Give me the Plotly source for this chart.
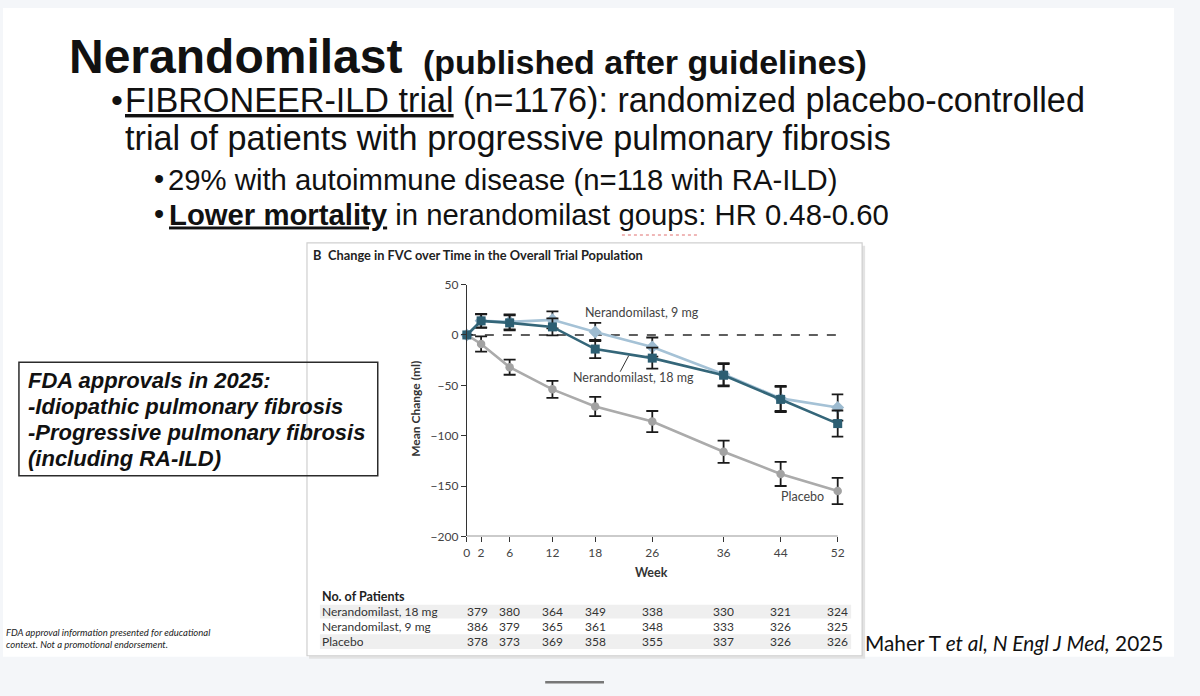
import math
import plotly.graph_objects as go

W, H = 1200, 696
nan = float("nan")

# ---- data ----
weeks = [0, 2, 6, 12, 18, 26, 36, 44, 52]
placebo_mean = [0, -9, -32, -54, -71, -86, -116, -138, -155]
placebo_err = [nan, 7.5, 7.5, 8.5, 9.5, 10.5, 11, 12, 13]
nera9_mean = [0, 14, 13, 15, 3, -12, -39, -63, -72]
nera9_err = [nan, 7, 7.5, 8.5, 9, 9.5, 11, 12.5, 13]
nera18_mean = [0, 14, 12, 8, -14, -23, -40, -64, -88]
nera18_err = [nan, 6.5, 7.5, 8.5, 9, 10.5, 11, 12.5, 13]

y_ticks = [-200, -150, -100, -50, 0, 50]

table_weeks = [2, 6, 12, 18, 26, 36, 44, 52]
table_rows = ["Nerandomilast, 18 mg", "Nerandomilast, 9 mg", "Placebo"]
n_18mg = [379, 380, 364, 349, 338, 330, 321, 324]
n_9mg = [386, 379, 365, 361, 348, 333, 326, 325]
n_placebo = [378, 373, 369, 358, 355, 337, 326, 326]


def px(x):
    return x / W


def py(y):
    return 1 - y / H


X0_PX, X52_PX = 465.4, 837.5
PX_PER_WK = (X52_PX - X0_PX) / 52
X_MAX = 52.8

fig = go.Figure()

ERR = dict(type="data", color="#1a1a1a", thickness=1.8, width=6)

fig.add_trace(go.Scatter(
    x=weeks, y=placebo_mean, mode="lines+markers", name="Placebo",
    line=dict(color="#ababab", width=2.6),
    marker=dict(symbol="circle", size=8.5, color="#a2a2a2"),
    error_y=dict(array=placebo_err, **ERR), cliponaxis=False))
fig.add_trace(go.Scatter(
    x=weeks, y=nera9_mean, mode="lines+markers", name="Nerandomilast, 9 mg",
    line=dict(color="#a5c2d6", width=2.6),
    marker=dict(symbol="diamond", size=10, color="#9dbbd0"),
    error_y=dict(array=nera9_err, **ERR), cliponaxis=False))
fig.add_trace(go.Scatter(
    x=weeks, y=nera18_mean, mode="lines+markers", name="Nerandomilast, 18 mg",
    line=dict(color="#346679", width=2.6),
    marker=dict(symbol="square", size=9, color="#2c5e72"),
    error_y=dict(array=nera18_err, **ERR), cliponaxis=False))

shapes = []
# slide area
shapes.append(dict(type="rect", xref="paper", yref="paper", x0=px(0), x1=px(1175),
                   y0=py(663), y1=py(0), fillcolor="white", line=dict(width=0), layer="below"))
# chart panel with light shadow
shapes.append(dict(type="rect", xref="paper", yref="paper", x0=px(307), x1=px(865),
                   y0=py(665), y1=py(243), fillcolor="#e3e3e3", line=dict(width=0), layer="below"))
shapes.append(dict(type="rect", xref="paper", yref="paper", x0=px(305), x1=px(862),
                   y0=py(662), y1=py(240), fillcolor="white", line=dict(color="#cfcfcf", width=1.2),
                   layer="below"))
# table shading
for top, bot in [(610, 624), (640, 655)]:
    shapes.append(dict(type="rect", xref="paper", yref="paper", x0=px(318), x1=px(851),
                       y0=py(bot), y1=py(top), fillcolor="#efefef", line=dict(width=0), layer="below"))
# zero reference line
shapes.append(dict(type="line", xref="x", yref="y", x0=0, x1=X_MAX, y0=0, y1=0,
                   line=dict(color="#2a2a2a", width=1.5, dash="dash"), layer="below"))
# x axis baseline (ends at week 52)
shapes.append(dict(type="line", xref="x", yref="y", x0=0, x1=52, y0=-200, y1=-200,
                   line=dict(color="#333", width=1.2)))
# leader line for 18 mg label
shapes.append(dict(type="line", xref="x", yref="y", x0=22.7, x1=21.5, y0=-20.5, y1=-36.5,
                   line=dict(color="#333", width=1)))
# left FDA box
shapes.append(dict(type="rect", xref="paper", yref="paper", x0=px(16), x1=px(376),
                   y0=py(478), y1=py(362), line=dict(color="#2b2b2b", width=1.5)))
# bottom small bar
shapes.append(dict(type="line", xref="paper", yref="paper", x0=px(544), x1=px(603),
                   y0=py(689), y1=py(689), line=dict(color="#777", width=2.5)))
# spell-check squiggle
shapes.append(dict(type="line", xref="paper", yref="paper", x0=px(621), x1=px(698),
                   y0=py(232), y1=py(232), line=dict(color="#e07070", width=1, dash="dot")))

ann = []
SLIDE = "Liberation Sans, Arial, sans-serif"
NEJM = "Lato, Open Sans, sans-serif"


def text(x, y, s, size, family=SLIDE, color="#111", xanchor="left", yanchor="middle",
         height=None, valign="middle"):
    a = dict(xref="paper", yref="paper", x=px(x), y=py(y), text=s, showarrow=False,
             xanchor=xanchor, yanchor=yanchor, align="left", valign=valign, borderpad=0,
             font=dict(family=family, size=size, color=color))
    if height:
        a["height"] = height
    ann.append(a)


text(65, 50, "<b>Nerandomilast</b>", 48)
text(420, 55, "<b>(published after guidelines)</b>", 34)
# two tightly stacked lines: bottom-aligned boxes so descenders are never clipped
text(107, 96, "•", 34, height=34, valign="bottom")
text(121, 96, "<span style='text-decoration:underline'>FIBRONEER-ILD trial</span> (n=1176): randomized placebo-controlled", 34.2, height=34, valign="bottom")
text(121, 134.5, "trial of patients with progressive pulmonary fibrosis", 34.2, height=34, valign="bottom")
text(151, 175, "•", 29, height=34)
text(165, 175, "29% with autoimmune disease (n=118 with RA-ILD)", 29.3, height=34)
text(151, 211, "•", 29, height=34)
text(166, 211, "<b><span style='text-decoration:underline'>Lower mortality</span></b> in nerandomilast goups: HR 0.48-0.60", 29.3, height=34)

# FDA box
for yy, s in zip([380, 406.5, 433, 459.5],
                 ["FDA approvals in 2025:", "-Idiopathic pulmonary fibrosis",
                  "-Progressive pulmonary fibrosis", "(including RA-ILD)"]):
    text(24, yy, "<b><i>" + s + "</i></b>", 22, height=26)

# footnote
text(2, 638, "<i>FDA approval information presented for educational</i>", 9.5, family=NEJM, color="#222")
text(2, 651, "<i>context. Not a promotional endorsement.</i>", 9.5, family=NEJM, color="#222")

# citation
text(864, 648, "Maher T <i>et al, N Engl J Med,</i> 2025", 20.8, family=NEJM, color="#111")

# panel title
text(310, 252.5, "<b>B</b>  <b>Change in FVC over Time in the Overall Trial Population</b>", 12.8,
     family=NEJM, color="#222")
# axis titles
ann.append(dict(xref="paper", yref="paper", x=px(414), y=py(410), text="<b>Mean Change (ml)</b>",
                showarrow=False, textangle=-90, xanchor="center", yanchor="middle",
                font=dict(family=NEJM, size=12, color="#333")))
text(651, 577, "<b>Week</b>", 12.5, family=NEJM, color="#333", xanchor="center")

# series labels (data coords)
for xx, yy, s in [(24.5, 22, "Nerandomilast, 9 mg"), (23.4, -42, "Nerandomilast, 18 mg"),
                  (47.0, -160.5, "Placebo")]:
    ann.append(dict(xref="x", yref="y", x=xx, y=yy, text=s, showarrow=False,
                    xanchor="center", yanchor="middle",
                    font=dict(family=NEJM, size=12.5, color="#444")))

# patient table
text(319, 601.5, "<b>No. of Patients</b>", 12.5, family=NEJM, color="#222")
for row_y, label, counts in zip([617, 632, 647.5], table_rows, [n_18mg, n_9mg, n_placebo]):
    text(319, row_y, label, 12, family=NEJM, color="#333", height=14.5)
    for i, (wk, n) in enumerate(zip(table_weeks, counts)):
        ann.append(dict(xref="x", yref="paper", x=wk, y=py(row_y), text=str(n), showarrow=False,
                        xanchor="center", yanchor="middle", xshift=-4 if i == 0 else 0,
                        height=14.5, borderpad=0,
                        font=dict(family=NEJM, size=12, color="#333")))

fig.update_layout(
    width=W, height=H, margin=dict(l=0, r=0, t=0, b=0),
    paper_bgcolor="#f4f6f9", plot_bgcolor="rgba(0,0,0,0)",
    showlegend=False, shapes=shapes, annotations=ann,
    xaxis=dict(domain=[px(X0_PX), px(X0_PX + PX_PER_WK * X_MAX)], range=[0, X_MAX], tickvals=weeks,
               ticks="outside", ticklen=5, tickwidth=1.2, tickcolor="#333",
               showline=False, showgrid=False, zeroline=False,
               tickfont=dict(family=NEJM, size=12, color="#444")),
    yaxis=dict(domain=[py(540), py(282.7)], range=[-200, 50], tickvals=y_ticks,
               ticks="outside", ticklen=5, tickwidth=1.2, tickcolor="#333",
               showline=True, linecolor="#333", linewidth=1.2, showgrid=False, zeroline=False,
               tickfont=dict(family=NEJM, size=12, color="#444")),
)

POST = ("var h=document.documentElement,b=document.body;"
        "h.style.margin='0';h.style.padding='0';b.style.margin='0';b.style.padding='0';"
        "h.style.overflow='hidden';b.style.overflow='hidden';")

fig.write_html("out.html", config={"displayModeBar": False}, post_script=POST)
